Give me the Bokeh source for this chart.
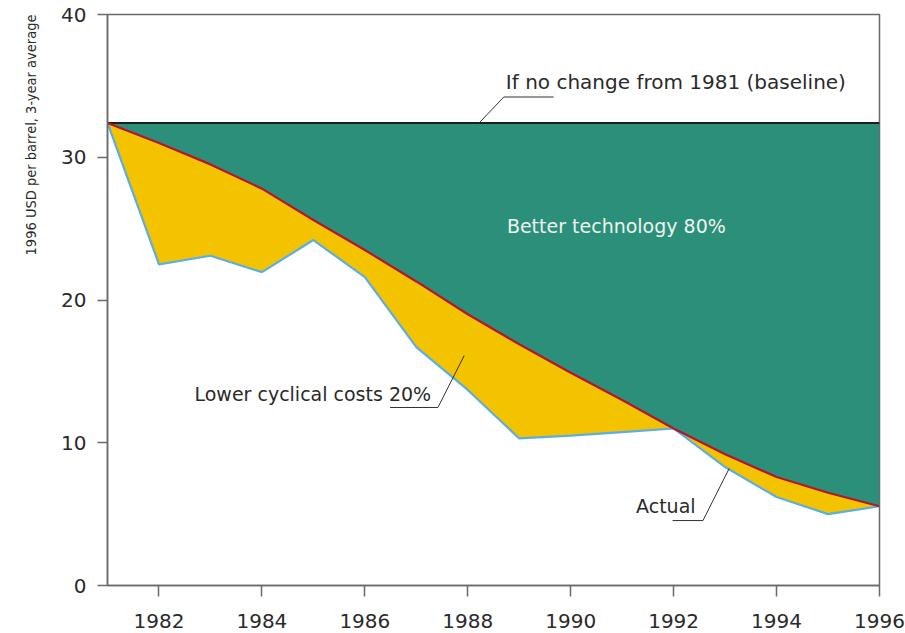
from bokeh.plotting import figure
from bokeh.models import Label, FixedTicker, Title
from bokeh.embed import file_html
from bokeh.resources import INLINE

years = list(range(1981, 1997))
technology = [32.4, 31.0, 29.5, 27.8, 25.6, 23.5, 21.3, 19.0, 16.9, 14.9, 13.0, 11.0, 9.2, 7.6, 6.5, 5.55]
actual = [32.4, 22.5, 23.1, 21.95, 24.2, 21.6, 16.7, 13.7, 10.3, 10.5, 10.75, 11.0, 8.3, 6.2, 5.0, 5.55]
baseline = 32.4
x_ticks = [1982, 1984, 1986, 1988, 1990, 1992, 1994, 1996]
y_ticks = [0, 10, 20, 30, 40]
y_label = "1996 USD per barrel, 3-year average"
txt_baseline = "If no change from 1981 (baseline)"
txt_tech = "Better technology 80%"
txt_cycl = "Lower cyclical costs 20%"
txt_actual = "Actual"

GREEN = "#2c8f7a"
YELLOW = "#f3c300"
RED = "#b8142c"
BLUE = "#5aaee6"
TEXT = "#2a2a2a"
AXIS = "#6a6a6a"
FONT = "DejaVu Sans"

p = figure(width=905, height=633, x_range=(1981, 1996), y_range=(0, 40),
           output_backend="svg", toolbar_location=None,
           min_border_left=106, min_border_right=26, min_border_top=14, min_border_bottom=48)
p.xgrid.visible = False
p.ygrid.visible = False
p.background_fill_color = "white"
p.border_fill_color = "white"
p.outline_line_color = AXIS
p.outline_line_width = 1.5

base_arr = [baseline] * len(years)
p.varea(x=years, y1=technology, y2=base_arr, fill_color=GREEN)
p.varea(x=years, y1=actual, y2=technology, fill_color=YELLOW)
p.line(x=[years[0], years[-1]], y=[baseline, baseline], line_color="#1e1e1e", line_width=2)
p.line(x=years, y=actual, line_color=BLUE, line_width=2.2)
p.line(x=years, y=technology, line_color=RED, line_width=2.2)

# axes
xa = p.xaxis[0]
xa.ticker = FixedTicker(ticks=x_ticks)
xa.major_label_text_font = FONT
xa.major_label_text_font_size = "20px"
xa.major_label_text_color = TEXT
xa.major_tick_out = 11
xa.major_tick_in = 0
xa.minor_tick_out = 0
xa.minor_tick_in = 0
xa.major_label_standoff = 17
xa.axis_line_color = AXIS
xa.axis_line_width = 1.5
xa.major_tick_line_color = AXIS
xa.major_tick_line_width = 1.5

ya = p.yaxis[0]
ya.ticker = FixedTicker(ticks=y_ticks)
ya.major_label_text_font = FONT
ya.major_label_text_font_size = "20px"
ya.major_label_text_color = TEXT
ya.major_tick_out = 10
ya.major_tick_in = 0
ya.minor_tick_out = 0
ya.minor_tick_in = 0
ya.major_label_standoff = 11
ya.axis_line_color = AXIS
ya.axis_line_width = 1.5
ya.major_tick_line_color = AXIS
ya.major_tick_line_width = 1.5

# y-axis title, aligned with the top of the frame (as in the reference)
p.add_layout(Title(text=y_label, align="right", text_font="DejaVu Sans Condensed",
                   text_font_size="14.5px", text_font_style="normal", text_color=TEXT,
                   standoff=40), "left")

# annotations
def lbl(x, y, t, color=TEXT, size="19px"):
    p.add_layout(Label(x=x, y=y, text=t, text_font=FONT, text_font_size=size,
                       text_color=color, text_baseline="middle", text_align="left"))

lbl(1988.74, 35.3, txt_baseline, size="20px")
lbl(1988.76, 25.2, txt_tech, color="#eef3ee")
lbl(1982.69, 13.45, txt_cycl)
lbl(1991.27, 5.6, txt_actual)

# leader lines
p.line(x=[1989.67, 1988.70, 1988.22], y=[34.22, 34.22, 32.4], line_color="#333", line_width=1)
p.line(x=[1986.49, 1987.42, 1987.93], y=[12.47, 12.47, 16.1], line_color="#333", line_width=1)
p.line(x=[1991.98, 1992.57, 1993.08], y=[4.55, 4.55, 8.2], line_color="#333", line_width=1)

open("out.html", "w").write(file_html(p, INLINE))
